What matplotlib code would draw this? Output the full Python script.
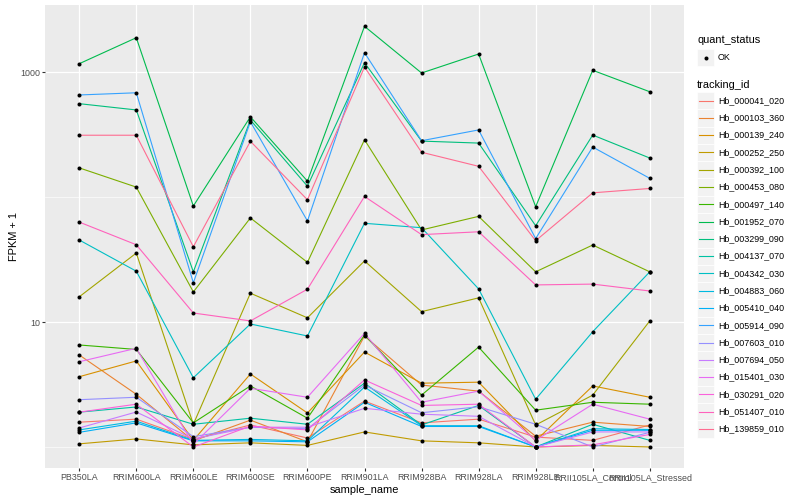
import matplotlib
matplotlib.use('Agg')
import matplotlib.pyplot as plt
from matplotlib.lines import Line2D
from matplotlib.patches import Rectangle
from matplotlib.ticker import FixedLocator, NullFormatter

plt.rcParams['font.family'] = ['Liberation Sans', 'DejaVu Sans']

samples = ['PB350LA', 'RRIM600LA', 'RRIM600LE', 'RRIM600SE', 'RRIM600PE', 'RRIM901LA',
           'RRIM928BA', 'RRIM928LA', 'RRIM928LE', 'RRII105LA_Control', 'RRII105LA_Stressed']

tracking_ids = ['Hb_000041_020', 'Hb_000103_360', 'Hb_000139_240', 'Hb_000252_250',
                'Hb_000392_100', 'Hb_000453_080', 'Hb_000497_140', 'Hb_001952_070',
                'Hb_003299_090', 'Hb_004137_070', 'Hb_004342_030', 'Hb_004883_060',
                'Hb_005410_040', 'Hb_005914_090', 'Hb_007603_010', 'Hb_007694_050',
                'Hb_015401_030', 'Hb_030291_020', 'Hb_051407_010', 'Hb_139859_010']

colors = ['#F8766D', '#EA8331', '#D89000', '#C09B00', '#A3A500', '#7CAE00', '#39B600',
          '#00BB4E', '#00BF7D', '#00C1A3', '#00BFC4', '#00BAE0', '#00B0F6', '#35A2FF',
          '#9590FF', '#C77CFF', '#E76BF3', '#FA62DB', '#FF62BC', '#FF6C91']

# FPKM + 1 values per tracking id, one per sample
hb_000041_020 = [1.58, 1.67, 1.15, 1.50, 1.18, 2.33, 1.56, 1.67, 1.20, 1.13, 1.50]
hb_000103_360 = [5.45, 2.64, 1.12, 1.64, 1.10, 7.73, 3.13, 2.80, 1.22, 1.58, 1.46]
hb_000139_240 = [3.65, 4.88, 1.13, 3.84, 1.87, 5.75, 3.24, 3.30, 1.12, 3.08, 2.50]
hb_000252_250 = [1.06, 1.16, 1.04, 1.08, 1.03, 1.32, 1.12, 1.08, 1.00, 1.03, 1.00]
hb_000392_100 = [15.9, 35.6, 1.52, 17.0, 10.8, 30.8, 12.1, 15.6, 1.50, 2.60, 10.2]
hb_000453_080 = [171, 120, 17.4, 68, 30, 287, 54.5, 70, 25.2, 41.3, 25.2]
hb_000497_140 = [6.55, 6.03, 1.56, 3.08, 1.70, 7.87, 2.60, 6.30, 1.97, 2.28, 2.20]
hb_001952_070 = [1165, 1880, 84.7, 438, 134, 2320, 982, 1393, 83.6, 1032, 695]
hb_003299_090 = [558, 497, 25.2, 413, 122, 1187, 280, 270, 58.9, 313, 205]
hb_004137_070 = [1.90, 2.09, 1.52, 1.70, 1.52, 3.24, 1.50, 2.15, 1.00, 1.52, 1.13]
hb_004342_030 = [45.3, 25.5, 3.58, 9.64, 7.73, 61.6, 56.8, 18.4, 2.41, 8.36, 25.2]
hb_004883_060 = [1.37, 1.61, 1.13, 1.15, 1.12, 3.02, 1.48, 1.48, 1.00, 1.40, 1.38]
hb_005410_040 = [1.31, 1.56, 1.12, 1.12, 1.10, 2.28, 1.46, 1.46, 1.00, 1.36, 1.36]
hb_005914_090 = [655, 682, 20.6, 400, 64.3, 1427, 282, 344, 46.5, 251, 141]
hb_007603_010 = [2.39, 2.50, 1.21, 1.44, 1.40, 3.13, 1.88, 2.10, 1.52, 1.00, 1.31]
hb_007694_050 = [1.42, 1.905, 1.16, 1.44, 1.44, 2.04, 1.83, 1.76, 1.00, 1.32, 1.32]
hb_015401_030 = [4.81, 6.16, 1.05, 2.95, 2.50, 8.12, 2.28, 2.80, 1.13, 2.20, 1.67]
hb_030291_020 = [1.90, 2.20, 1.00, 1.47, 1.37, 3.44, 2.15, 2.20, 1.00, 1.04, 1.26]
hb_051407_010 = [63, 41.5, 11.8, 10.2, 18.3, 101, 50, 52.7, 19.8, 20.1, 17.7]
hb_139859_010 = [312, 312, 40, 279, 95, 1096, 228, 176, 44.7, 108, 117]

series = [hb_000041_020, hb_000103_360, hb_000139_240, hb_000252_250, hb_000392_100,
          hb_000453_080, hb_000497_140, hb_001952_070, hb_003299_090, hb_004137_070,
          hb_004342_030, hb_004883_060, hb_005410_040, hb_005914_090, hb_007603_010,
          hb_007694_050, hb_015401_030, hb_030291_020, hb_051407_010, hb_139859_010]

W, H = 800, 500
fig = plt.figure(figsize=(8, 5), dpi=100)
fig.patch.set_facecolor('white')
ax = fig.add_axes([45 / W, 1 - 468 / H, 639 / W, 463 / H])
ax.set_facecolor('#EBEBEB')
for s in ax.spines.values():
    s.set_visible(False)

x = list(range(len(samples)))
for vals, c in zip(series, colors):
    ax.plot(x, vals, color=c, lw=0.8, zorder=3, solid_capstyle='butt')
for vals in series:
    ax.plot(x, vals, 'o', color='black', ms=2.9, zorder=4, markeredgewidth=0)

ax.set_yscale('log')
ax.set_ylim(10 ** -0.168, 10 ** 3.536)
ax.set_xlim(-0.6, len(samples) - 1 + 0.6)
ax.yaxis.set_major_locator(FixedLocator([10, 1000]))
ax.set_yticklabels(['10', '1000'])
ax.yaxis.set_minor_locator(FixedLocator([1, 100]))
ax.yaxis.set_minor_formatter(NullFormatter())
ax.set_xticks(x)
ax.set_xticklabels(samples)
ax.tick_params(axis='both', which='major', length=2.0, width=0.8, color='#333333',
               labelcolor='#4D4D4D', labelsize=6.4, pad=1.5)
ax.tick_params(axis='y', which='minor', length=0)
ax.grid(True, which='major', color='white', lw=0.9, zorder=0)
ax.grid(True, which='minor', axis='y', color='white', lw=0.45, zorder=0)
ax.set_axisbelow(True)
ax.set_xlabel('sample_name', fontsize=7.9, color='black', labelpad=2)
ax.set_ylabel('FPKM + 1', fontsize=7.9, color='black', labelpad=1)

# manual ggplot-style legends
def fx(px):
    return px / W

def fy(py):
    return 1 - py / H

key = 17.28
kx0 = 697
fig.text(fx(697), fy(40), 'quant_status', fontsize=7.9, va='center', ha='left')
fig.patches.append(Rectangle((fx(kx0), fy(49 + key)), key / W, key / H,
                             transform=fig.transFigure, facecolor='#F2F2F2',
                             edgecolor='white', lw=0.5))
fig.lines.append(Line2D([fx(kx0 + key / 2)], [fy(49 + key / 2)], marker='o', ms=2.9,
                        color='black', markeredgewidth=0, transform=fig.transFigure))
fig.text(fx(718), fy(49 + key / 2), 'OK', fontsize=6.4, va='center', ha='left')

fig.text(fx(697), fy(85), 'tracking_id', fontsize=7.9, va='center', ha='left')
top = 92
for i, (tid, c) in enumerate(zip(tracking_ids, colors)):
    y0 = top + i * key
    fig.patches.append(Rectangle((fx(kx0), fy(y0 + key)), key / W, key / H,
                                 transform=fig.transFigure, facecolor='#F2F2F2',
                                 edgecolor='white', lw=0.5))
    fig.lines.append(Line2D([fx(kx0 + 1.7), fx(kx0 + key - 1.7)],
                            [fy(y0 + key / 2)] * 2, color=c, lw=0.8,
                            transform=fig.transFigure))
    fig.text(fx(718), fy(y0 + key / 2), tid, fontsize=6.4, va='center', ha='left')

fig.savefig('out.png', dpi=100)
